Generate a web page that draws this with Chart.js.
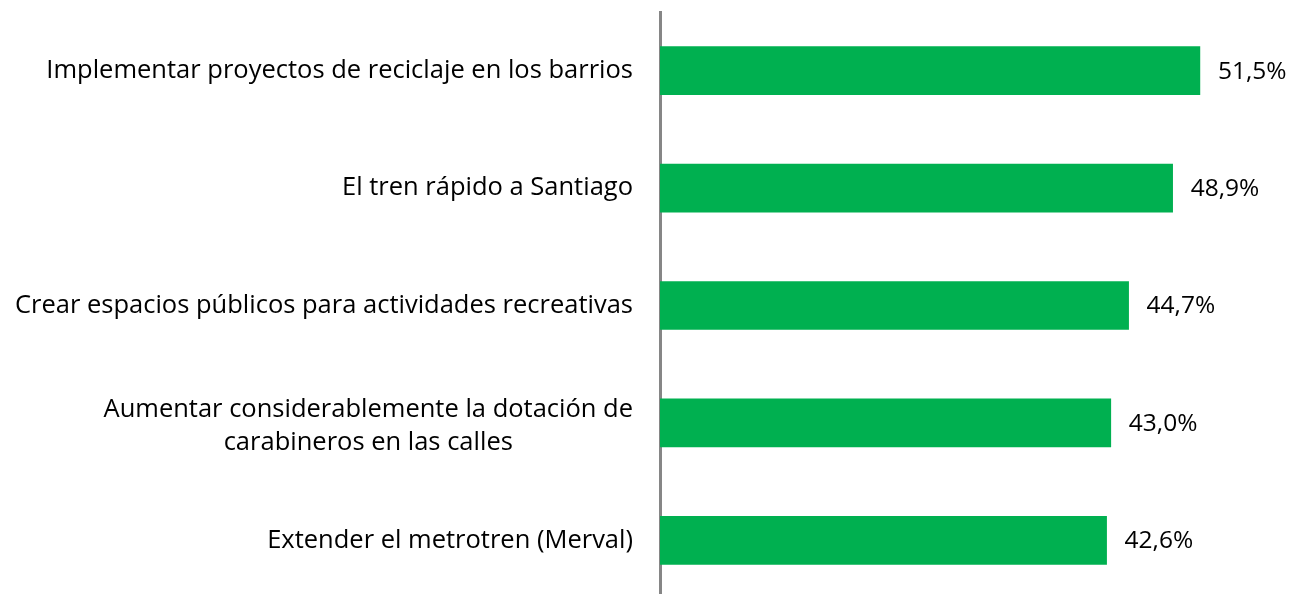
<!DOCTYPE html>
<html>
<head>
<meta charset="utf-8">
<script src="https://cdn.jsdelivr.net/npm/chart.js@4"></script>
<style>
  html, body { margin: 0; padding: 0; background: #fff; overflow: hidden; }
  #wrap { width: 1293px; height: 600px; position: relative; }
</style>
</head>
<body>
<div id="wrap"><canvas id="chart"></canvas></div>
<script>
// Chart data
const categories = [
    ['Implementar proyectos de reciclaje en los barrios'],
    ['El tren rápido a Santiago'],
    ['Crear espacios públicos para actividades recreativas'],
    ['Aumentar considerablemente la dotación de', 'carabineros en las calles'],
    ['Extender el metrotren (Merval)']
];
const values = [51.5, 48.9, 44.7, 43.0, 42.6];
const valueLabels = ['51,5%', '48,9%', '44,7%', '43,0%', '42,6%'];

const FONT = '25.5px "Open Sans", Lato, sans-serif';
const VALUE_FONT = '24.5px "Open Sans", Lato, sans-serif';

/**
 * Draws the category names left of the axis and the values after each bar
 */
const labelsPlugin = {
    id: 'labels',
    afterDraw(chart) {
        const ctx = chart.ctx;
        const yScale = chart.scales.y;
        const area = chart.chartArea;
        ctx.save();
        ctx.font = FONT;
        ctx.fillStyle = '#000';
        ctx.textBaseline = 'middle';

        // Category labels, right edge just left of the axis
        const right = area.left - 27;
        const lineH = 33;
        categories.forEach((lines, i) => {
            const y = yScale.getPixelForTick(i);
            const maxW = Math.max(...lines.map(l => ctx.measureText(l).width));
            const cx = right - maxW / 2;
            const shift = lines.length > 1 ? 3 : 0;
            ctx.textAlign = 'center';
            lines.forEach((line, j) => {
                const dy = (j - (lines.length - 1) / 2) * lineH;
                ctx.fillText(line, cx, y + dy + shift);
            });
        });

        // Value labels after bars
        const meta = chart.getDatasetMeta(0);
        ctx.font = VALUE_FONT;
        ctx.textAlign = 'left';
        meta.data.forEach((bar, i) => {
            ctx.fillText(valueLabels[i], bar.x + 18, bar.y + 1);
        });
        ctx.restore();
    }
};

const ctx = document.getElementById('chart').getContext('2d');
new Chart(ctx, {
    type: 'bar',
    data: {
        labels: categories,
        datasets: [{
            data: values,
            backgroundColor: '#00B050',
            borderWidth: 0,
            barThickness: 48
        }]
    },
    options: {
        indexAxis: 'y',
        responsive: true,
        maintainAspectRatio: false,
        animation: false,
        layout: {
            padding: { top: 12, bottom: 1, left: 0, right: 4 }
        },
        plugins: {
            legend: { display: false },
            tooltip: { enabled: false }
        },
        scales: {
            x: {
                display: false,
                min: 0,
                max: 60
            },
            y: {
                ticks: { display: false },
                grid: { display: false },
                border: { color: '#868686', width: 3 },
                afterFit(scale) {
                    scale.width = 660;
                }
            }
        }
    },
    plugins: [labelsPlugin]
});
</script>
</body>
</html>
